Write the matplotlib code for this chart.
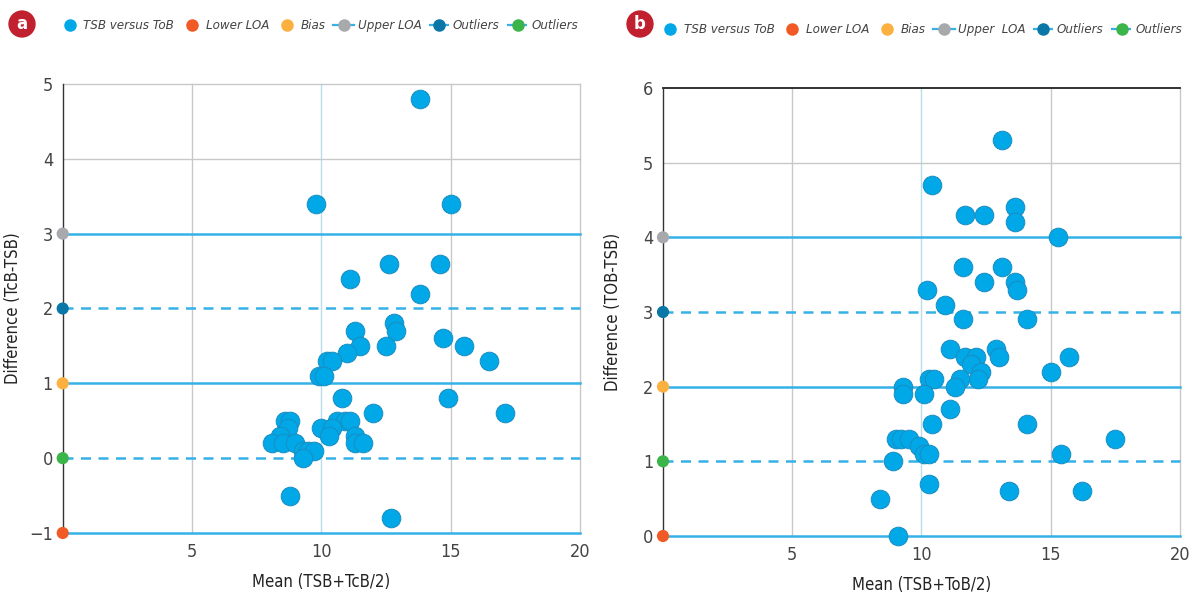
import numpy as np
import matplotlib.pyplot as plt
from matplotlib.lines import Line2D

# panel a data : mean (TSB+TcB/2) vs difference (TcB-TSB)
a_mean = [13.8, 9.8, 15.0, 11.1, 12.6, 14.6, 13.8, 12.8, 12.9, 11.3,
          14.7, 11.5, 12.5, 15.5, 11.0, 10.2, 10.4, 16.5, 9.9, 10.1,
          10.8, 14.9, 12.0, 17.1, 8.6, 8.8, 10.6, 10.9, 11.1, 8.7,
          10.0, 10.4, 8.4, 10.3, 11.3, 8.1, 8.5, 9.0, 11.3, 11.6,
          9.3, 9.5, 9.7, 9.3, 8.8, 12.7]
a_diff = [4.8, 3.4, 3.4, 2.4, 2.6, 2.6, 2.2, 1.8, 1.7, 1.7,
          1.6, 1.5, 1.5, 1.5, 1.4, 1.3, 1.3, 1.3, 1.1, 1.1,
          0.8, 0.8, 0.6, 0.6, 0.5, 0.5, 0.5, 0.5, 0.5, 0.4,
          0.4, 0.4, 0.3, 0.3, 0.3, 0.2, 0.2, 0.2, 0.2, 0.2,
          0.1, 0.1, 0.1, 0.0, -0.5, -0.8]
a_levels = [3, 2, 1, 0, -1]   # upper LOA, outliers, bias, outliers, lower LOA

# panel b data : mean (TSB+ToB/2) vs difference (TOB-TSB)
b_mean = [13.1, 10.4, 11.7, 12.4, 13.6, 13.6, 15.3, 11.6, 13.1, 12.4,
          13.6, 13.7, 10.2, 10.9, 11.6, 14.1, 11.1, 12.9, 13.0, 11.7,
          12.1, 11.9, 12.3, 12.2, 15.7, 15.0, 10.3, 10.5, 11.5, 11.3,
          9.3, 9.3, 10.1, 11.1, 10.4, 14.1, 9.0, 9.2, 9.5, 9.9,
          10.1, 10.3, 15.4, 17.5, 8.9, 10.3, 8.4, 13.4, 16.2, 9.1]
b_diff = [5.3, 4.7, 4.3, 4.3, 4.4, 4.2, 4.0, 3.6, 3.6, 3.4,
          3.4, 3.3, 3.3, 3.1, 2.9, 2.9, 2.5, 2.5, 2.4, 2.4,
          2.4, 2.3, 2.2, 2.1, 2.4, 2.2, 2.1, 2.1, 2.1, 2.0,
          2.0, 1.9, 1.9, 1.7, 1.5, 1.5, 1.3, 1.3, 1.3, 1.2,
          1.1, 1.1, 1.1, 1.3, 1.0, 0.7, 0.5, 0.6, 0.6, 0.0]
b_levels = [4, 3, 2, 1, 0]

xticks = [5, 10, 15, 20]

lvl_colors = ['#a7a9ac', '#0b77a6', '#fbb040', '#3bb44a', '#f15a24']
lvl_styles = ['-', '--', '-', '--', '-']
line_col = '#35b1e6'
pt_col = '#00a8e8'

fam = 'DejaVu Sans'
st = 'condensed'

fig = plt.figure(figsize=(11.92, 5.92), dpi=100)


def panel(rect, mean, diff, levels, ylab, xlab, letter, upper_name, topdark, badge_x):
    ax = fig.add_axes(rect)
    ymin, ymax = levels[-1], levels[-1] + 6
    ax.set_xlim(0, 20)
    ax.set_ylim(ymin, ymax)
    for s in ['top', 'right', 'bottom']:
        ax.spines[s].set_visible(False)
    ax.spines['left'].set_color('#333333')
    ax.spines['left'].set_linewidth(1.0)
    for xv in xticks:
        c = '#bcdcec' if xv == 10 else '#c8c8c8'
        ax.axvline(xv, color=c, lw=1, zorder=0, clip_on=False)
    for yv in range(int(levels[0]) + 1, int(ymax) + 1):
        if yv == ymax and topdark:
            ax.axhline(yv, color='#222222', lw=1.3, zorder=0, clip_on=False)
        else:
            ax.axhline(yv, color='#c8c8c8', lw=1, zorder=0, clip_on=False)
    for yv, ls in zip(levels, lvl_styles):
        ax.axhline(yv, color=line_col, lw=1.8, ls=ls, dashes=(4, 3) if ls == '--' else (None, None),
                   zorder=1, clip_on=False)
    ax.scatter([0] * len(levels), levels, s=60, c=lvl_colors, zorder=4, clip_on=False)
    ax.scatter(mean, diff, s=180, color=pt_col, edgecolors='#1a8cc0', linewidths=0.7, zorder=3, clip_on=False)

    ax.set_xticks(xticks)
    ax.set_yticks(range(int(ymin), int(ymax) + 1))
    ax.tick_params(length=0, labelsize=13, colors='#444444', pad=7)
    for t in ax.get_xticklabels() + ax.get_yticklabels():
        t.set_family(fam)
        t.set_stretch(st)
    ax.set_xlabel(xlab, fontsize=12, family=fam, stretch=st, color='#222222', labelpad=9)
    ax.set_ylabel(ylab, fontsize=12, family=fam, stretch=st, color='#222222')
    ax.yaxis.set_label_coords(-0.079, 0.5)

    handles = [
        Line2D([], [], ls='none', marker='o', ms=8, color=pt_col),
        Line2D([], [], ls='none', marker='o', ms=8, color=lvl_colors[4]),
        Line2D([], [], ls='none', marker='o', ms=8, color=lvl_colors[2]),
        Line2D([], [], ls='-', lw=1.6, marker='o', ms=8, color=line_col, mfc=lvl_colors[0], mec=lvl_colors[0]),
        Line2D([], [], ls='--', lw=1.6, marker='o', ms=8, color=line_col, mfc=lvl_colors[1], mec=lvl_colors[1]),
        Line2D([], [], ls='--', lw=1.6, marker='o', ms=8, color=line_col, mfc=lvl_colors[3], mec=lvl_colors[3]),
    ]
    labels = ['TSB versus ToB', 'Lower LOA', 'Bias', upper_name, 'Outliers', 'Outliers']
    leg = ax.legend(handles, labels, loc='center left', bbox_to_anchor=(-0.025, 1.13), ncol=6,
                    frameon=False, handlelength=1.6, handletextpad=0.25, columnspacing=0.55,
                    borderpad=0.2, prop={'family': fam, 'stretch': st, 'style': 'italic', 'size': 9.5})
    for t in leg.get_texts():
        t.set_color('#444444')
    fig.text(badge_x, 1 - 24 / 592, letter, ha='center', va='center',
             color='white', fontsize=12, fontweight='bold',
             bbox=dict(boxstyle='circle,pad=0.28', fc='#c1202f', ec='none'))
    return ax


panel([0.0526, 0.0997, 0.434, 0.7584], a_mean, a_diff, a_levels,
      'Difference (TcB-TSB)', 'Mean (TSB+TcB/2)', 'a', 'Upper LOA', False, 22 / 1192)
panel([0.5562, 0.0946, 0.4337, 0.7568], b_mean, b_diff, b_levels,
      'Difference (TOB-TSB)', 'Mean (TSB+ToB/2)', 'b', 'Upper  LOA', True, 640 / 1192)

fig.savefig('out.png', dpi=100)
